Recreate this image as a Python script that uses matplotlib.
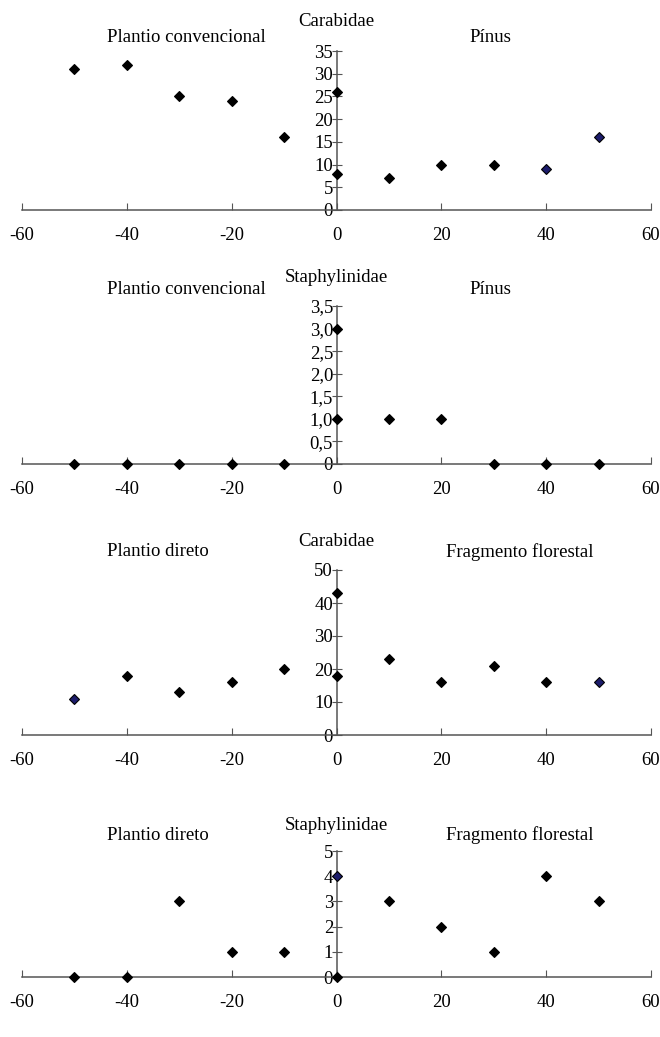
import matplotlib
matplotlib.use("Agg")
import matplotlib.pyplot as plt
from matplotlib.ticker import FixedLocator, FixedFormatter

plt.rcParams['font.family'] = ['Liberation Serif', 'DejaVu Serif']
plt.rcParams['axes.unicode_minus'] = False

# distancias (m) - lado esquerdo e lado direito
x_left = [-50, -40, -30, -20, -10, 0]
x_right = [0, 10, 20, 30, 40, 50]

# painel 1: Carabidae, Plantio convencional x Pinus
p1_left = [31, 32, 25, 24, 16, 26]
p1_right = [8, 7, 10, 10, 9, 16]
p1_right_blue = [False, False, False, False, True, True]

# painel 2: Staphylinidae, Plantio convencional x Pinus
p2_left = [0, 0, 0, 0, 0, 3]
p2_right = [1, 1, 1, 0, 0, 0]

# painel 3: Carabidae, Plantio direto x Fragmento florestal
p3_left = [11, 18, 13, 16, 20, 43]
p3_left_blue = [True, False, False, False, False, False]
p3_right = [18, 23, 16, 21, 16, 16]
p3_right_blue = [False, False, False, False, False, True]

# painel 4: Staphylinidae, Plantio direto x Fragmento florestal
p4_left = [0, 0, 3, 1, 1, 4]
p4_left_blue = [False, False, False, False, False, True]
p4_right = [0, 3, 2, 1, 4, 3]

xticks = [-60, -40, -20, 0, 20, 40, 60]
xticklabels = ['-60', '-40', '-20', '0', '20', '40', '60']

yt1 = [0, 5, 10, 15, 20, 25, 30, 35]
yl1 = ['0', '5', '10', '15', '20', '25', '30', '35']
yt2 = [0, 0.5, 1.0, 1.5, 2.0, 2.5, 3.0, 3.5]
yl2 = ['0', '0,5', '1,0', '1,5', '2,0', '2,5', '3,0', '3,5']
yt3 = [0, 10, 20, 30, 40, 50]
yl3 = ['0', '10', '20', '30', '40', '50']
yt4 = [0, 1, 2, 3, 4, 5]
yl4 = ['0', '1', '2', '3', '4', '5']

W, H = 660, 1037
fig = plt.figure(figsize=(W / 100, H / 100), dpi=100)

FS = 13.5
AX_COL = '#555555'

paineis = [
    # (top px, bottom px, titulo, esq, dir, x esq, x dir, dy titulo, dy lados, ...)
    (51, 210, 'Carabidae', 'Plantio convencional', 'Pínus', 186, 490, 29, 13,
     yt1, yl1, p1_left, [False] * 6, p1_right, p1_right_blue),
    (306, 464, 'Staphylinidae', 'Plantio convencional', 'Pínus', 186, 490, 28, 16,
     yt2, yl2, p2_left, [False] * 6, p2_right, [False] * 6),
    (570, 735, 'Carabidae', 'Plantio direto', 'Fragmento florestal', 158, 520, 29, 18,
     yt3, yl3, p3_left, p3_left_blue, p3_right, p3_right_blue),
    (851, 977, 'Staphylinidae', 'Plantio direto', 'Fragmento florestal', 158, 520, 26, 16,
     yt4, yl4, p4_left, p4_left_blue, p4_right, [False] * 6),
]

x0px, x1px = 22, 651
for (top, bot, titulo, esq, dire, xe, xd, dt, ds, yt, yl,
     yleft, bleft, yright, bright) in paineis:
    ax = fig.add_axes([x0px / W, 1 - bot / H, (x1px - x0px) / W, (bot - top) / H])
    ax.set_xlim(-60, 60)
    ax.set_ylim(0, yt[-1])
    ax.patch.set_visible(False)
    for s in ['top', 'right']:
        ax.spines[s].set_visible(False)
    ax.spines['left'].set_position(('data', 0))
    ax.spines['bottom'].set_position(('data', 0))
    for s in ['left', 'bottom']:
        ax.spines[s].set_color(AX_COL)
        ax.spines[s].set_linewidth(1.1)

    ax.xaxis.set_major_locator(FixedLocator(xticks))
    ax.xaxis.set_major_formatter(FixedFormatter(xticklabels))
    ax.yaxis.set_major_locator(FixedLocator(yt))
    ax.yaxis.set_major_formatter(FixedFormatter(yl))
    ax.tick_params(axis='x', direction='in', length=5, color=AX_COL,
                   labelsize=FS, pad=12)
    ax.tick_params(axis='y', direction='inout', length=7, color=AX_COL,
                   labelsize=FS, pad=-1)

    for xs, ys, bl in [(x_left, yleft, bleft), (x_right, yright, bright)]:
        for xv, yv, b in zip(xs, ys, bl):
            ax.plot(xv, yv, marker='D', markersize=5.3,
                    markerfacecolor='#1c1c6b' if b else 'black',
                    markeredgecolor='black', markeredgewidth=0.8,
                    linestyle='none', clip_on=False, zorder=5)

    # titulos em pixels
    fig.text(336 / W, 1 - (top - dt) / H, titulo, ha='center', va='center',
             fontsize=FS)
    fig.text(xe / W, 1 - (top - ds) / H, esq, ha='center', va='center',
             fontsize=FS)
    fig.text(xd / W, 1 - (top - ds) / H, dire, ha='center', va='center',
             fontsize=FS)

fig.savefig('out.png', dpi=100)
